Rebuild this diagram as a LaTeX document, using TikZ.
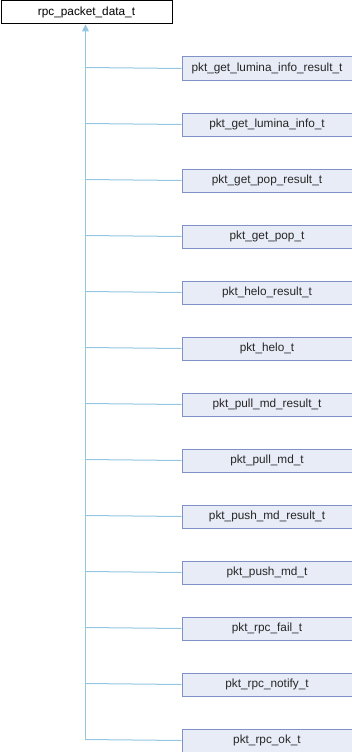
\documentclass[tikz,border=0pt]{standalone}
\usepackage{fontspec}
\setmainfont{Liberation Sans}
\usetikzlibrary{arrows.meta}
\definecolor{linkc}{HTML}{94C6E3}
\definecolor{boxfill}{HTML}{E8ECF6}
\definecolor{boxdraw}{HTML}{7F91C6}
\tikzset{
  base/.style={draw=black, fill=white, line width=1pt, minimum width=171pt, minimum height=23pt, inner sep=0pt, font=\fontsize{11.8}{13}\selectfont, anchor=north west},
  child/.style={draw=boxdraw, fill=boxfill, line width=1pt, minimum width=170pt, minimum height=23pt, inner sep=0pt, font=\fontsize{11.8}{13}\selectfont, anchor=north west, text=black!85},
  conn/.style={draw=linkc, line width=1pt},
}
\begin{document}
\begin{tikzpicture}[x=1pt,y=-1pt]
\useasboundingbox (0,0) rectangle (352,752);
\node[base] (root) at (0.5,0.5) {rpc\_packet\_data\_t};
\foreach \n [count=\i from 0] in {pkt\_get\_lumina\_info\_result\_t, pkt\_get\_lumina\_info\_t, pkt\_get\_pop\_result\_t, pkt\_get\_pop\_t, pkt\_helo\_result\_t, pkt\_helo\_t, pkt\_pull\_md\_result\_t, pkt\_pull\_md\_t, pkt\_push\_md\_result\_t, pkt\_push\_md\_t, pkt\_rpc\_fail\_t, pkt\_rpc\_notify\_t, pkt\_rpc\_ok\_t} {
  \node[child] (c\i) at (181.5, 56.5+56*\i) {\n};
  \draw[conn] (85.5, 67.5+56*\i) -- (c\i.west);
}
\coordinate (bend) at (85.5,739.5);
\draw[conn, -{Triangle[length=7pt,width=7pt]}] (bend) -- (root.south -| bend);
\end{tikzpicture}
\end{document}
